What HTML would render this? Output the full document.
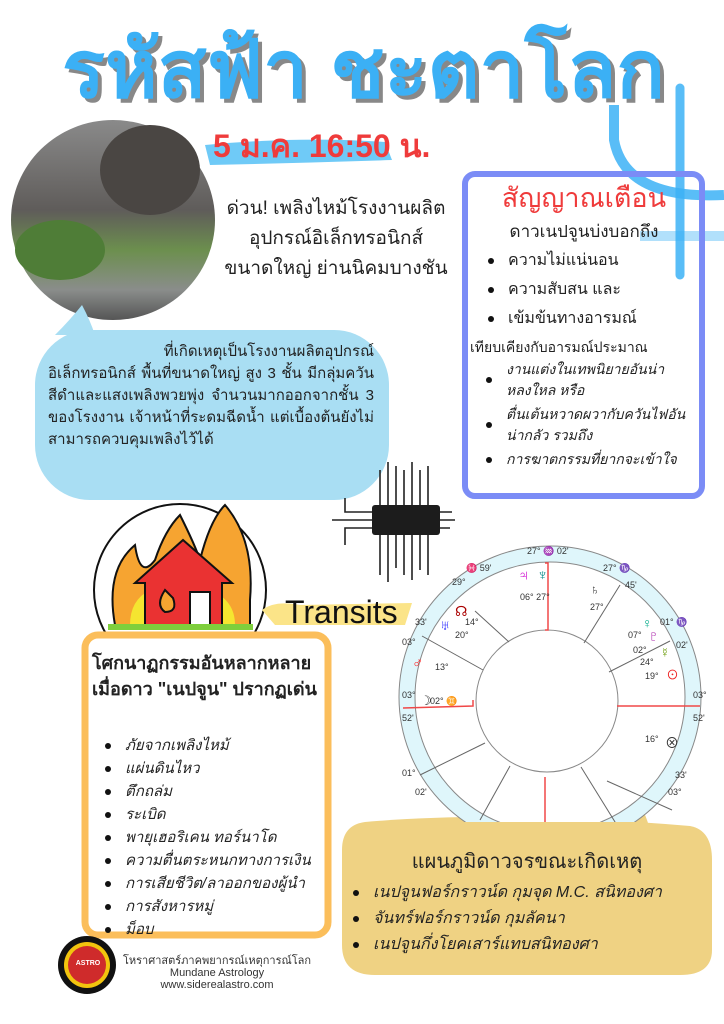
<!DOCTYPE html>
<html><head><meta charset="utf-8"><style>
*{margin:0;padding:0;box-sizing:border-box}
body{width:724px;height:1024px;background:#fff;position:relative;overflow:hidden;font-family:"Liberation Sans","Noto Sans CJK SC","WenQuanYi Zen Hei",sans-serif;color:#222}
.a{position:absolute}
ul{list-style:none}
li{position:relative;padding-left:28px}
li:before{content:"";position:absolute;left:8px;top:50%;width:6px;height:6px;margin-top:-3px;border-radius:50%;background:#111}
</style></head><body>
<svg class="a" style="left:0;top:0" width="724" height="1024">
<path d="M680 88 L680 275" stroke="#3cb2f6" stroke-width="9" stroke-linecap="round" fill="none" opacity=".85"/>
<path d="M614 105 L614 140 Q625 200 724 195" stroke="#3cb2f6" stroke-width="10" fill="none" opacity=".85"/>
<path d="M640 236 L724 236" stroke="#3cb2f6" stroke-width="10" fill="none" opacity=".4"/>
<path d="M205 145 Q300 136 385 142 L392 160 Q300 163 210 165 Z" fill="#6fcaf7"/>
<defs><linearGradient id="ph" x1="0" y1="0" x2="0" y2="1"><stop offset="0" stop-color="#8a8a8a"/><stop offset=".45" stop-color="#5f5c5a"/><stop offset=".65" stop-color="#6c8f4e"/><stop offset=".85" stop-color="#8a8d8b"/><stop offset="1" stop-color="#555"/></linearGradient></defs>
<ellipse cx="113" cy="220" rx="102" ry="100" fill="url(#ph)"/>
<ellipse cx="60" cy="250" rx="45" ry="30" fill="#4f7d37"/>
<ellipse cx="150" cy="170" rx="50" ry="45" fill="#4a4643"/>
<path d="M82 305 Q90 320 95 335 L55 335 Q70 320 82 305Z" fill="#a9def3"/>
<rect x="35" y="330" width="354" height="170" rx="55" fill="#a9def3"/>
<rect x="465" y="174" width="237" height="322" rx="10" fill="none" stroke="#7b8cf6" stroke-width="6"/>
<g stroke="#222" stroke-width="1.6" fill="none">
<path d="M380 505 L380 470 M388 505 L388 462 M396 505 L396 466 M404 505 L404 470 M412 505 L412 462 M420 505 L420 470 M428 505 L428 466"/>
<path d="M380 535 L380 575 M388 535 L388 582 M396 535 L396 568 M404 535 L404 575 M412 535 L412 580 M420 535 L420 570 M428 535 L428 575"/>
<path d="M372 512 L345 512 L345 498 M372 520 L332 520 M372 528 L345 528 L345 545"/>
<path d="M440 512 L452 512 M440 520 L455 520 M440 528 L450 528"/>
</g>
<rect x="372" y="505" width="68" height="30" rx="3" fill="#1c1c1c"/>
<circle cx="180" cy="590" r="86" fill="#fff" stroke="#111" stroke-width="2"/>
<path d="M115 625 Q105 570 135 545 Q140 580 155 560 Q165 530 180 515 Q195 545 200 560 Q210 520 225 505 Q255 540 250 600 L250 625Z" fill="#f6a431" stroke="#111" stroke-width="2"/>
<path d="M130 625 Q130 600 150 590 L210 590 Q235 600 235 625Z" fill="#f5e530"/>
<path d="M135 583 L183 540 L232 583 L222 583 L222 625 L145 625 L145 583Z" fill="#ea3232" stroke="#111" stroke-width="2"/>
<rect x="190" y="592" width="20" height="33" fill="#fff" stroke="#111" stroke-width="2"/>
<path d="M165 590 Q155 605 165 612 Q178 612 173 598 Z" fill="#f6a431" stroke="#111" stroke-width="2"/>
<rect x="108" y="624" width="145" height="6" fill="#7fcf3c"/>
<path d="M262 610 Q275 600 300 605 L412 603 L405 625 L275 625 Z" fill="#fbe488"/>
<rect x="85" y="635" width="243" height="300" rx="13" fill="#fff" stroke="#fbbe5b" stroke-width="7"/>
<circle cx="87" cy="965" r="29" fill="#111"/><circle cx="87" cy="965" r="23" fill="#f2c40e"/><circle cx="87" cy="965" r="19" fill="#cf2b2b"/>
<path d="M600 820 Q610 790 605 772 Q640 790 650 830Z" fill="#efd283"/>
<path d="M365 822 Q500 810 690 826 Q712 830 712 860 L712 950 Q712 975 680 975 L375 975 Q342 975 342 945 L342 850 Q342 825 365 822Z" fill="#efd283"/>
</svg>
<svg class="a" style="left:0;top:0" width="724" height="1024">
<clipPath id="cl"><rect x="0" y="0" width="724" height="822"/></clipPath>
<g clip-path="url(#cl)">
<circle cx="550" cy="697" r="151" fill="#dff6fb" stroke="#888" stroke-width="1"/>
<circle cx="550" cy="697" r="135" fill="#fff" stroke="#888" stroke-width="1"/>
<circle cx="547" cy="701" r="71" fill="#fff" stroke="#888" stroke-width="1"/>
<g stroke="#666" stroke-width="1">
<line x1="475" y1="611" x2="509" y2="642"/><line x1="422" y1="636" x2="483" y2="670"/>
<line x1="620" y1="585" x2="584" y2="643"/><line x1="670" y1="641" x2="609" y2="672"/>
<line x1="607" y1="781" x2="672" y2="810"/><line x1="581" y1="767" x2="620" y2="830"/>
<line x1="510" y1="766" x2="480" y2="820"/><line x1="485" y1="743" x2="420" y2="775"/>
</g>
<g stroke="#f04848" stroke-width="1.5" fill="none">
<path d="M545 630 L548 630 L548 563 L545 563"/><path d="M403 708 L473 706 L473 700"/>
<line x1="617" y1="706" x2="700" y2="706"/><line x1="545" y1="777" x2="545" y2="822"/>
</g>
</g>
</svg>
<div class="a" style="left:0;top:0;width:724px;height:1024px;font-size:9px;color:#333">
<span class="a" style="left:527px;top:546px">27° <span style="color:#44f">♒</span> 02'</span>
<span class="a" style="left:466px;top:563px">♓ 59'</span><span class="a" style="left:452px;top:577px">29°</span>
<span class="a" style="left:603px;top:563px">27° <span style="color:#393">♑</span></span><span class="a" style="left:625px;top:580px">45'</span>
<span class="a" style="left:660px;top:617px">01° ♑</span><span class="a" style="left:676px;top:640px">02'</span>
<span class="a" style="left:415px;top:617px">33'</span><span class="a" style="left:402px;top:637px">03°</span>
<span class="a" style="left:693px;top:690px">03°</span><span class="a" style="left:693px;top:713px">52'</span>
<span class="a" style="left:402px;top:690px">03°</span><span class="a" style="left:402px;top:713px">52'</span>
<span class="a" style="left:675px;top:770px">33'</span><span class="a" style="left:668px;top:787px">03°</span>
<span class="a" style="left:402px;top:768px">01°</span><span class="a" style="left:415px;top:787px">02'</span>
<span class="a" style="left:518px;top:567px;font-size:15px;color:#c0c">♃</span><span class="a" style="left:537px;top:567px;font-size:15px;color:#088">♆</span>
<span class="a" style="left:520px;top:592px">06° 27°</span>
<span class="a" style="left:455px;top:603px;font-size:14px;color:#a00">☊</span><span class="a" style="left:440px;top:617px;font-size:14px;color:#22f">♅</span>
<span class="a" style="left:465px;top:617px">14°</span><span class="a" style="left:455px;top:630px">20°</span>
<span class="a" style="left:412px;top:655px;font-size:15px;color:#f22">♂</span><span class="a" style="left:435px;top:662px">13°</span>
<span class="a" style="left:420px;top:693px;font-size:13px">☽</span><span class="a" style="left:430px;top:696px">02° <span style="color:#22f">♊</span></span>
<span class="a" style="left:590px;top:582px;font-size:13px">♄</span><span class="a" style="left:590px;top:602px">27°</span>
<span class="a" style="left:642px;top:615px;font-size:14px;color:#0a8">♀</span><span class="a" style="left:648px;top:628px;font-size:15px;color:#a2a">♇</span>
<span class="a" style="left:628px;top:630px">07°</span><span class="a" style="left:633px;top:645px">02°</span>
<span class="a" style="left:660px;top:645px;font-size:13px;color:#690">☿</span><span class="a" style="left:640px;top:657px">24°</span>
<span class="a" style="left:665px;top:664px;font-size:15px;color:#e22">☉</span><span class="a" style="left:645px;top:671px">19°</span>
<span class="a" style="left:645px;top:734px">16°</span><span class="a" style="left:665px;top:733px;font-size:14px">⊗</span>
</div>
<div class="a" style="left:62px;top:22px;width:640px;height:90px;white-space:nowrap">
<div style="display:inline-block;transform-origin:0 0;transform:scaleX(1.0);font-size:80px;font-weight:bold;color:#3bb0f5;text-shadow:4px 4px 0 #888;line-height:96px">รหัสฟ้า ชะตาโลก</div></div>
<div class="a" style="left:213px;top:126px;font-size:32px;font-weight:bold;color:#ef3b3b;line-height:40px">5 ม.ค. 16:50 น.</div>
<div class="a" style="left:220px;top:194px;width:232px;text-align:center;font-size:19px;line-height:30px;color:#222">ด่วน! เพลิงไหม้โรงงานผลิต<br>อุปกรณ์อิเล็กทรอนิกส์<br>ขนาดใหญ่ ย่านนิคมบางชัน</div>
<div class="a" style="left:470px;top:178px;width:228px;font-size:15px;line-height:27px">
<div style="text-align:center;color:#ef3b3b;font-size:27px;line-height:40px">สัญญาณเตือน</div>
<div style="text-align:center;font-size:17px;line-height:28px">ดาวเนปจูนบ่งบอกถึง</div>
<ul style="font-size:16px;line-height:29px;padding-left:10px"><li>ความไม่แน่นอน</li><li>ความสับสน และ</li><li>เข้มข้นทางอารมณ์</li></ul>
<div style="font-size:14px;line-height:24px;margin-top:2px">เทียบเคียงกับอารมณ์ประมาณ</div>
<ul style="font-size:14px;font-style:italic;line-height:21px;padding-left:8px"><li style="margin-bottom:3px">งานแต่งในเทพนิยายอันน่าหลงใหล หรือ</li><li style="margin-bottom:3px">ตื่นเต้นหวาดผวากับควันไฟอันน่ากลัว รวมถึง</li><li>การฆาตกรรมที่ยากจะเข้าใจ</li></ul>
</div>
<div class="a" style="left:48px;top:341px;width:326px;font-size:15px;line-height:22px;text-align:justify;text-align-last:left">&nbsp;&nbsp;&nbsp;&nbsp;&nbsp;&nbsp;&nbsp;&nbsp;&nbsp;&nbsp;&nbsp;&nbsp;ที่เกิดเหตุเป็นโรงงานผลิตอุปกรณ์อิเล็กทรอนิกส์ พื้นที่ขนาดใหญ่ สูง 3 ชั้น มีกลุ่มควันสีดำและแสงเพลิงพวยพุ่ง จำนวนมากออกจากชั้น 3 ของโรงงาน เจ้าหน้าที่ระดมฉีดน้ำ แต่เบื้องต้นยังไม่สามารถควบคุมเพลิงไว้ได้</div>
<div class="a" style="left:285px;top:592px;font-size:32px;font-family:'Liberation Sans Narrow','Liberation Sans',sans-serif;color:#111;line-height:40px">Transits</div>
<div class="a" style="left:92px;top:650px;width:232px;font-size:18px;font-weight:bold;line-height:26px">โศกนาฏกรรมอันหลากหลาย<br>เมื่อดาว "เนปจูน" ปรากฏเด่น</div>
<ul class="a" style="left:97px;top:734px;font-size:15px;font-style:italic;line-height:23px"><li>ภัยจากเพลิงไหม้</li><li>แผ่นดินไหว</li><li>ตึกถล่ม</li><li>ระเบิด</li><li>พายุเฮอริเคน ทอร์นาโด</li><li>ความตื่นตระหนกทางการเงิน</li><li>การเสียชีวิต/ลาออกของผู้นำ</li><li>การสังหารหมู่</li><li>ม็อบ</li></ul>
<div class="a" style="left:68px;top:960px;width:40px;text-align:center;font-size:7px;font-weight:bold;color:#fff">ASTRO</div>
<div class="a" style="left:117px;top:955px;width:200px;text-align:center;font-size:11px;line-height:12px;color:#333">โหราศาสตร์ภาคพยากรณ์เหตุการณ์โลก<br>Mundane Astrology<br>www.siderealastro.com</div>
<div class="a" style="left:342px;top:848px;width:370px;text-align:center;font-size:20px;line-height:28px">แผนภูมิดาวจรขณะเกิดเหตุ</div>
<ul class="a" style="left:345px;top:880px;font-size:16px;font-style:italic;line-height:26px"><li>เนปจูนฟอร์กราวน์ด กุมจุด M.C. สนิทองศา</li><li>จันทร์ฟอร์กราวน์ด กุมลัคนา</li><li>เนปจูนกึ่งโยคเสาร์แทบสนิทองศา</li></ul>
</body></html>
